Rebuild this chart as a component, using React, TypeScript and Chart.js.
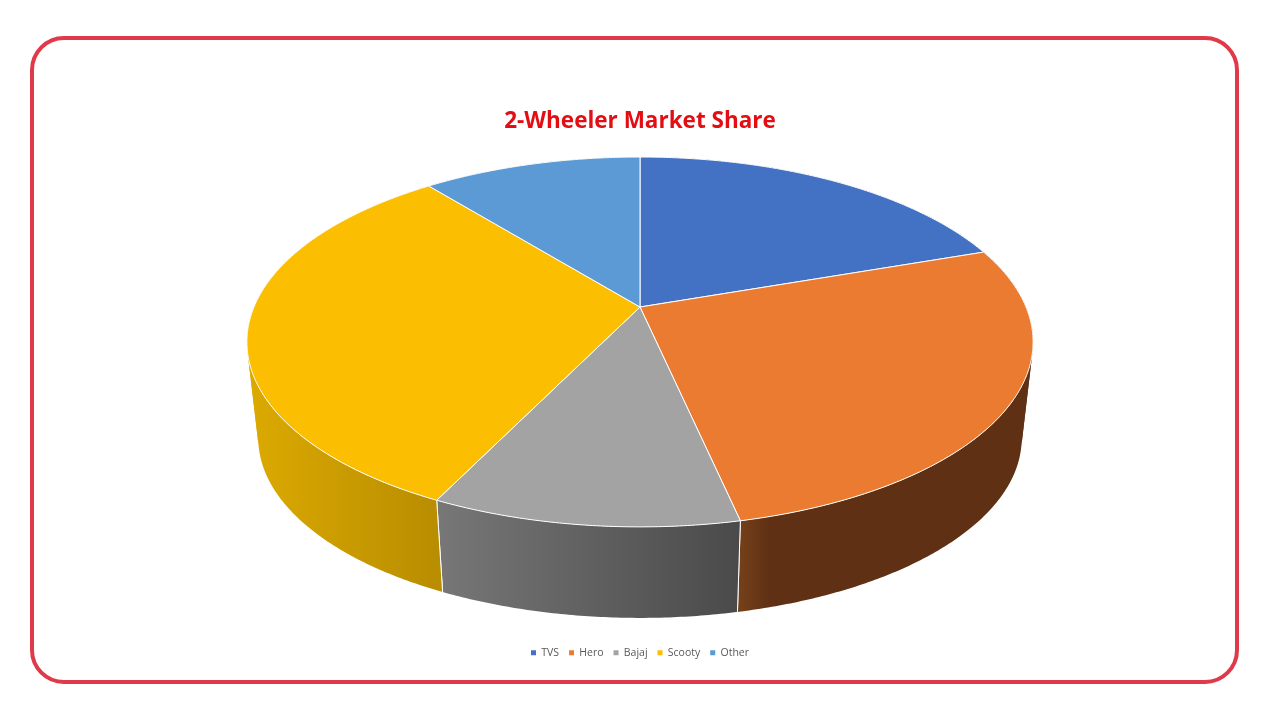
import React, { useEffect, useRef } from 'react';
import { Chart, registerables, Plugin } from 'chart.js';

Chart.register(...registerables);

const categories = ['TVS', 'Hero', 'Bajaj', 'Scooty', 'Other'];
const shares = [19.7, 26.9, 10.6, 32, 10.8];
const topColors = ['#4371c3', '#eb7b31', '#a3a3a3', '#fbbe00', '#5b9ad4'];
// left / right colour of the side wall, it's shaded across x
const wallStops = [
    ['#2a4478', '#2a4478'],
    ['#74401a', '#5f3013'],
    ['#777777', '#4a4a4a'],
    ['#dcaa00', '#b98d00'],
    ['#37608a', '#37608a'],
];

// Chart.js only does round pies, so the tilted disc goes through a perspective map
const CX = 640;
const K = -0.189;
const A = 386;
const B = 120.3;
const APEX_Y = 307;
const WALL_SCALE = 0.971;
const WALL_SHIFT = 106.3;

const project = (angle: number) => {
    const u = Math.cos(angle);
    const v = Math.sin(angle);
    const w = 1 + K * v;
    return { x: CX + (A * u) / w, y: (B * v + APEX_Y) / w };
};

const projectBottom = (angle: number) => {
    const p = project(angle);
    return { x: CX + (p.x - CX) * WALL_SCALE, y: p.y * WALL_SCALE + WALL_SHIFT };
};

// sign of the wall quad between two angles, it flips where the wall turns away
const facing = (a: number, b: number) => {
    const pts = [project(a), project(b), projectBottom(b), projectBottom(a)];
    let area = 0;
    pts.forEach((p, i) => {
        const q = pts[(i + 1) % 4];
        area += p.x * q.y - q.x * p.y;
    });
    return area >= 0;
};

const disc3d: Plugin<'pie'> = {
    id: 'disc3d',
    beforeDatasetDraw(chart) {
        const { ctx } = chart;
        const arcs = chart.getDatasetMeta(0).data as any[];
        const step = Math.PI / 360;

        const fillWall = (from: number, to: number) => {
            ctx.beginPath();
            for (let a = from; a < to; a += step) {
                const p = project(a);
                ctx.lineTo(p.x, p.y);
            }
            const e = project(to);
            ctx.lineTo(e.x, e.y);
            const eb = projectBottom(to);
            ctx.lineTo(eb.x, eb.y);
            for (let a = to - step; a > from; a -= step) {
                const q = projectBottom(a);
                ctx.lineTo(q.x, q.y);
            }
            const sb = projectBottom(from);
            ctx.lineTo(sb.x, sb.y);
            ctx.closePath();
            ctx.fill();
        };

        ctx.save();
        // side walls first, the top covers whatever is behind it
        arcs.forEach((arc, i) => {
            const a0 = project(arc.startAngle);
            const a1 = project(arc.endAngle);
            const b0 = projectBottom(arc.startAngle);
            const b1 = projectBottom(arc.endAngle);
            const xs = [];
            for (let a = arc.startAngle; a <= arc.endAngle; a += step) xs.push(project(a).x);
            const left = Math.min(...xs, a0.x, a1.x);
            const right = Math.max(...xs, a0.x, a1.x);
            const grad = ctx.createLinearGradient(left, 0, right, 0);
            grad.addColorStop(0, wallStops[i][0]);
            if (i === 1) grad.addColorStop(0.1, wallStops[i][1]);
            grad.addColorStop(1, wallStops[i][1]);
            ctx.fillStyle = grad;

            // one polygon per run of same-facing wall, so nonzero fill leaves no holes
            let runStart = arc.startAngle;
            let a = arc.startAngle;
            while (a < arc.endAngle) {
                const next = Math.min(a + step, arc.endAngle);
                const after = Math.min(next + step, arc.endAngle);
                if (next >= arc.endAngle || facing(a, next) !== facing(next, after)) {
                    fillWall(runStart, next);
                    runStart = next;
                }
                a = next;
            }

            ctx.strokeStyle = '#ffffff';
            ctx.lineWidth = 1;
            if (Math.sin(arc.startAngle) > 0) {
                ctx.beginPath();
                ctx.moveTo(a0.x, a0.y);
                ctx.lineTo(b0.x, b0.y);
                ctx.stroke();
            }
            if (Math.sin(arc.endAngle) > 0) {
                ctx.beginPath();
                ctx.moveTo(a1.x, a1.y);
                ctx.lineTo(b1.x, b1.y);
                ctx.stroke();
            }
        });

        arcs.forEach((arc, i) => {
            ctx.beginPath();
            ctx.moveTo(CX, APEX_Y);
            for (let a = arc.startAngle; a < arc.endAngle; a += step) {
                const p = project(a);
                ctx.lineTo(p.x, p.y);
            }
            const end = project(arc.endAngle);
            ctx.lineTo(end.x, end.y);
            ctx.closePath();
            ctx.fillStyle = topColors[i];
            ctx.fill();
            ctx.strokeStyle = '#ffffff';
            ctx.lineWidth = 1;
            ctx.lineJoin = 'round';
            ctx.stroke();
        });
        ctx.restore();
        return false;
    },
};

const App: React.FC = () => {
    const chartRef = useRef<HTMLCanvasElement>(null);

    useEffect(() => {
        document.body.style.margin = '0';
        document.body.style.background = '#ffffff';
        if (!chartRef.current) return;
        const chart = new Chart(chartRef.current, {
            type: 'pie',
            data: {
                labels: categories,
                datasets: [{ data: shares, backgroundColor: topColors, borderWidth: 0 }],
            },
            options: {
                responsive: false,
                animation: false,
                devicePixelRatio: 1,
                layout: { padding: { top: 108, bottom: 52 } },
                plugins: {
                    tooltip: { enabled: false },
                    title: {
                        display: true,
                        text: '2-Wheeler Market Share',
                        color: '#e20e14',
                        font: { family: '"Open Sans"', size: 22.5, weight: 'bold' },
                        padding: { top: 0, bottom: 10 },
                    },
                    legend: {
                        position: 'bottom',
                        labels: {
                            boxWidth: 5,
                            boxHeight: 5,
                            padding: 10,
                            color: '#595959',
                            font: { family: '"Open Sans"', size: 10.5 },
                        },
                    },
                },
            },
            plugins: [disc3d],
        });
        return () => chart.destroy();
    }, []);

    return (
        <div style={{ position: 'relative', width: 1280, height: 720, overflow: 'hidden' }}>
            <canvas ref={chartRef} width={1280} height={720} style={{ position: 'absolute', left: 0, top: 0 }} />
            <div
                style={{
                    position: 'absolute',
                    left: 30,
                    top: 36,
                    width: 1209,
                    height: 648,
                    boxSizing: 'border-box',
                    border: '4px solid #e03a4a',
                    borderRadius: 34,
                    pointerEvents: 'none',
                }}
            />
        </div>
    );
};

export default App;
